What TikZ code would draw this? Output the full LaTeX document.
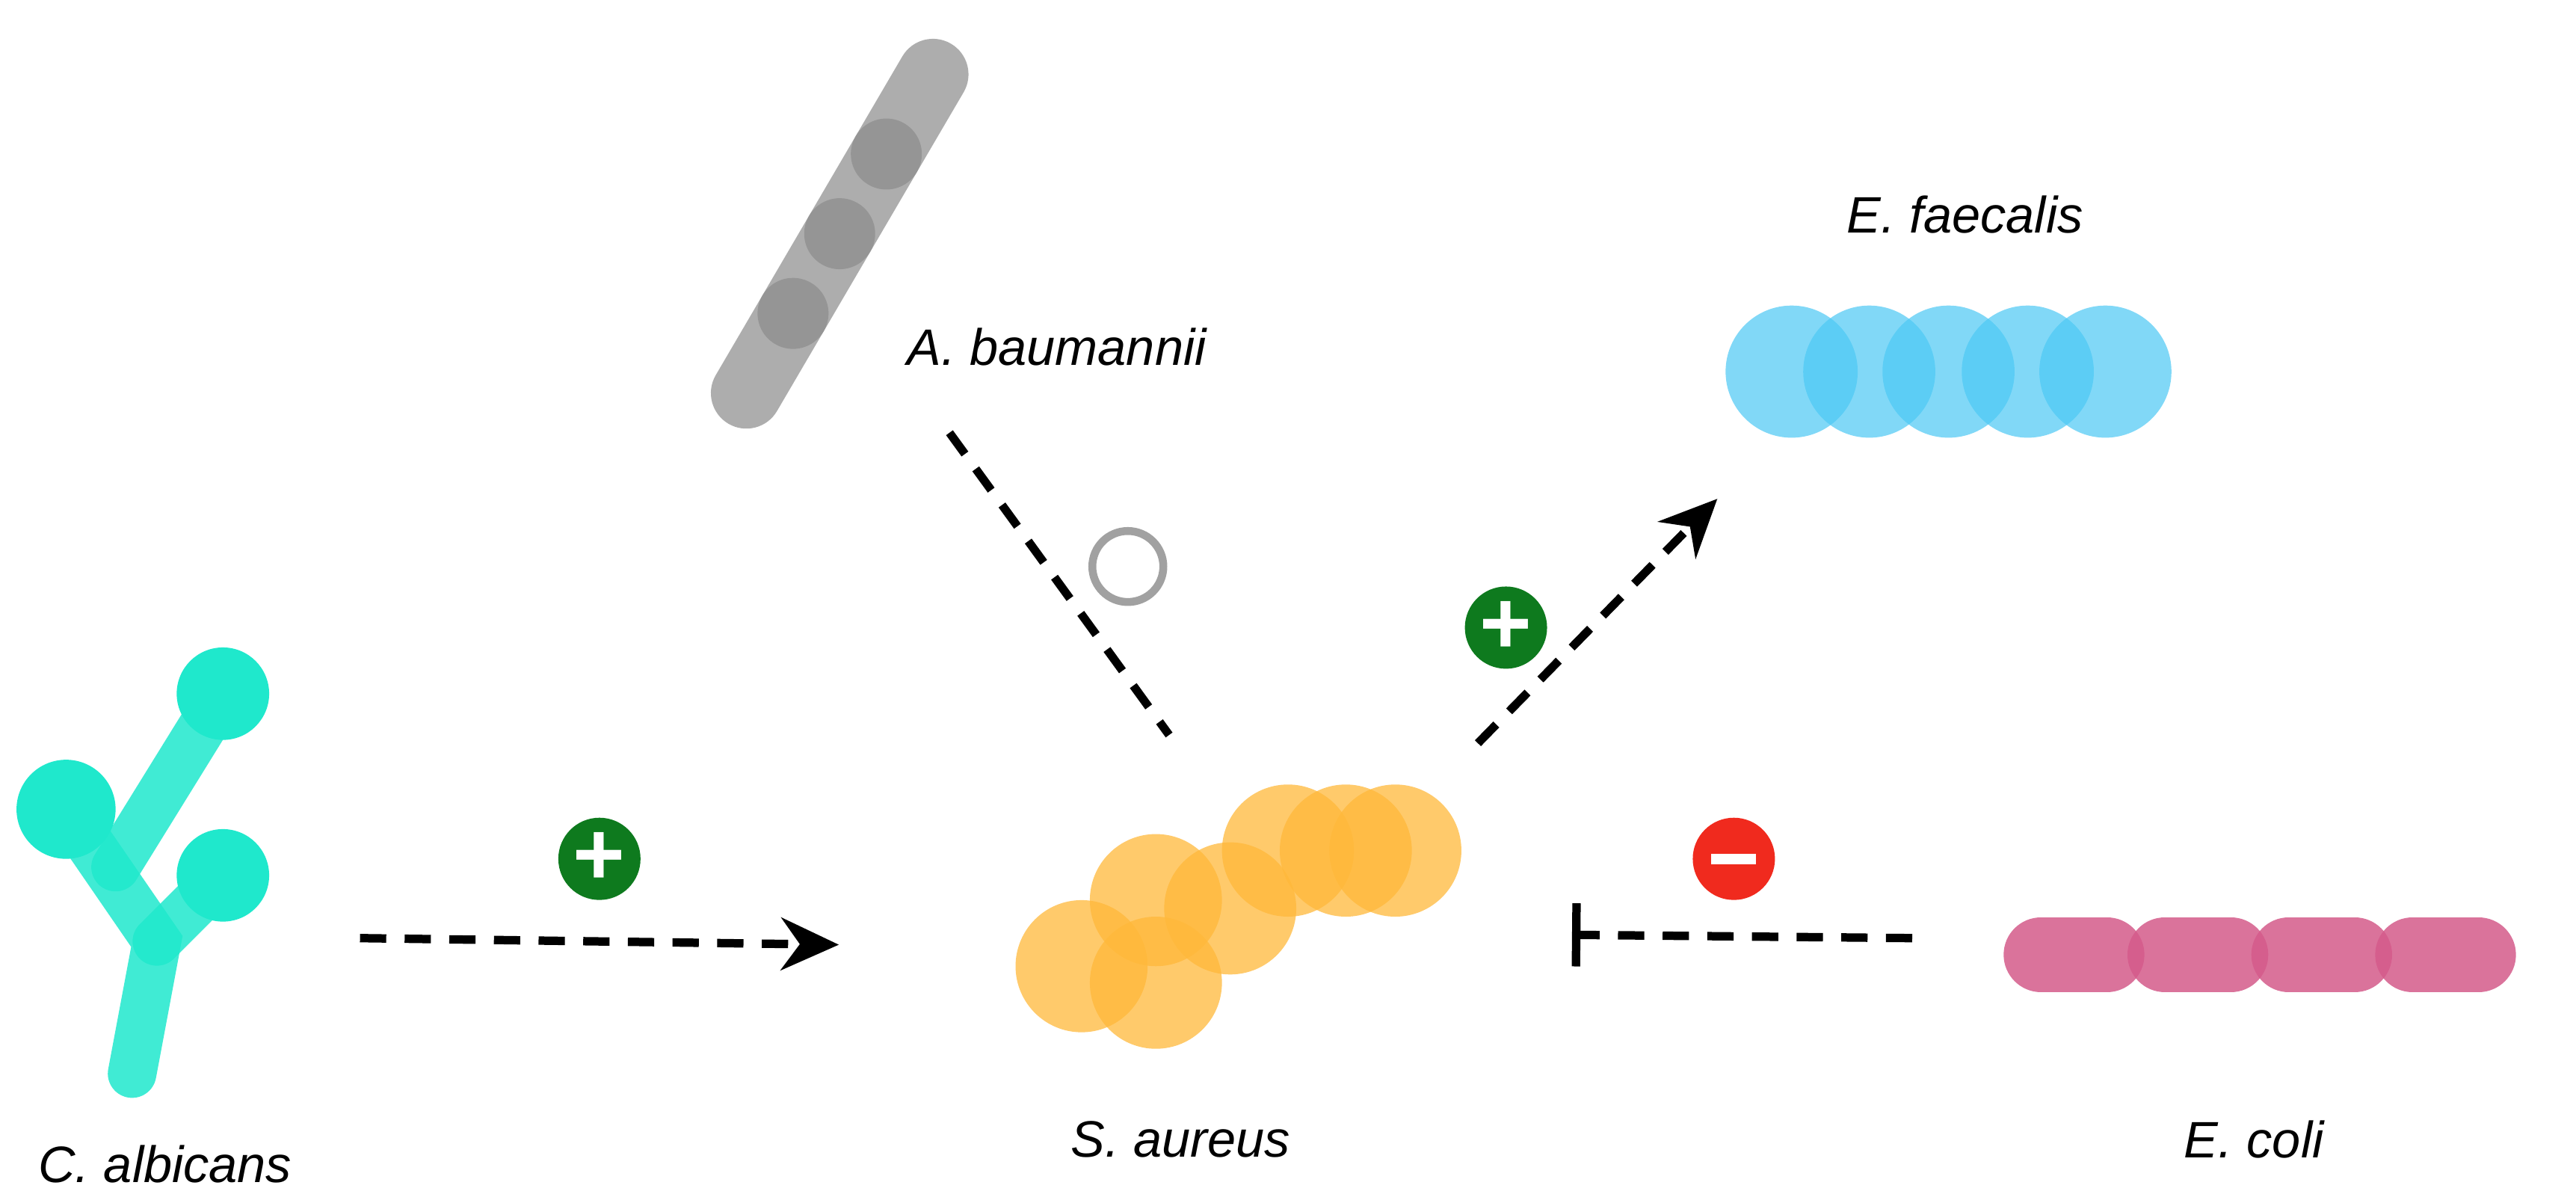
\documentclass[tikz,border=0pt]{standalone}
\usepackage{fontspec}
\setmainfont{Liberation Sans}
\usetikzlibrary{arrows.meta}
\definecolor{grayb}{HTML}{8A8A8A}
\definecolor{cyanb}{HTML}{4CC8F4}
\definecolor{pinkb}{HTML}{D45A8A}
\definecolor{orab}{HTML}{FFB83A}
\definecolor{candb}{HTML}{1FE8CC}
\definecolor{gplus}{HTML}{0E7A1E}
\definecolor{rminus}{HTML}{F02A1E}
\tikzset{
 lab/.style={font=\itshape\fontsize{19.5}{24}\selectfont},
 conn/.style={line width=3.2pt, dash pattern=on 10pt off 7pt},
 sign/.style={circle, minimum size=1.1cm, inner sep=0pt, text=white, font=\bfseries\fontsize{34}{34}\selectfont},
}
\begin{document}
\begin{tikzpicture}[x=0.02209cm,y=-0.02209cm]
\useasboundingbox (0,0) rectangle (1560,728);
% A. baumannii
\foreach \t in {0,1,2,3}{
  \pgfmathsetmacro\xa{452+113*\t/4}\pgfmathsetmacro\ya{238-193*\t/4}
  \pgfmathsetmacro\xb{452+113*(\t+1)/4}\pgfmathsetmacro\yb{238-193*(\t+1)/4}
  \draw[grayb, opacity=0.7, line width=0.95cm, line cap=round] (\xa,\ya) -- (\xb,\yb);
}
\node[lab] (ab) at (640,210) {A. baumannii};
% E. faecalis
\foreach \x in {1085,1132,1180,1228,1275}{\fill[cyanb, opacity=0.7] (\x,225) circle (40);}
\node[lab] (ef) at (1190,130) {E. faecalis};
% E. coli
\foreach \x in {1252,1327,1402,1477}{\draw[pinkb, opacity=0.85, line width=1.0cm, line cap=round] (\x-16,578) -- (\x+24,578);}
\node[lab] (ec) at (1365,690) {E. coli};
% S. aureus
\foreach \p in {(655,585),(700,545),(745,550),(780,515),(815,515),(845,515),(700,595)}{\fill[orab, opacity=0.75] \p circle (40);}
\node[lab] (sa) at (715,690) {S. aureus};
% C. albicans
\begin{scope}[candb, line width=0.65cm, line cap=round, opacity=0.85]
\draw (80,650) -- (95,570) -- (40,490);
\draw (95,570) -- (135,530);
\draw (70,525) -- (135,420);
\end{scope}
\fill[candb] (135,420) circle (28) (40,490) circle (30) (135,530) circle (28);
\node[lab] (ca) at (100,705) {C. albicans};
% connectors
\coordinate (c1a) at (218,568); \coordinate (c1b) at (508,572);
\draw[conn, -{Stealth[length=22pt,width=20pt]}] (c1a) -- (c1b);
\node[sign, fill=gplus] (p1) at (363,520) {+};
\coordinate (c2a) at (575,262); \coordinate (c2b) at (708,445);
\draw[conn] (c2a) -- (c2b);
\node[circle, draw=grayb!80, line width=3pt, minimum size=0.95cm] (o2) at (683,343) {};
\coordinate (c3a) at (895,450); \coordinate (c3b) at (1040,302);
\draw[conn, -{Stealth[length=22pt,width=20pt]}] (c3a) -- (c3b);
\node[sign, fill=gplus] (p3) at (912,380) {+};
\coordinate (c4a) at (1158,568); \coordinate (c4b) at (952,566);
\draw[conn, -{Bar[width=24pt,line width=3.2pt]}] (c4a) -- (c4b);
\node[sign, fill=rminus] (m4) at (1050,520) {};
\fill[white] ([xshift=-0.3cm,yshift=-0.07cm]m4.center) rectangle ([xshift=0.3cm,yshift=0.07cm]m4.center);
\end{tikzpicture}
\end{document}
